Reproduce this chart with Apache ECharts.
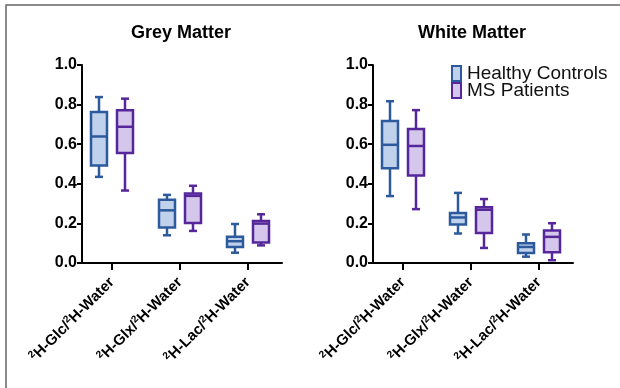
<!DOCTYPE html>
<html><head><meta charset="utf-8">
<script src="https://cdn.jsdelivr.net/npm/echarts@6.0.0/dist/echarts.min.js"></script>
<style>html,body{margin:0;padding:0;background:#fff;overflow:hidden}#c{width:620px;height:388px}</style>
</head><body><div id="c"></div>
<script>
const metabolites = ['Glc', 'Glx', 'Lac'];
const yTicks = [0.0, 0.2, 0.4, 0.6, 0.8, 1.0];
const seriesNames = ['Healthy Controls', 'MS Patients'];
const panelTitles = ['Grey Matter', 'White Matter'];
// each row: [min, Q1, median, Q3, max]
const greyHealthy = [[0.435, 0.492, 0.639, 0.762, 0.838], [0.140, 0.179, 0.266, 0.320, 0.344], [0.052, 0.081, 0.110, 0.132, 0.197]];
const greyMS = [[0.366, 0.556, 0.688, 0.772, 0.830], [0.162, 0.202, 0.339, 0.351, 0.390], [0.089, 0.103, 0.199, 0.212, 0.246]];
const whiteHealthy = [[0.338, 0.479, 0.597, 0.717, 0.817], [0.149, 0.195, 0.230, 0.252, 0.354], [0.032, 0.051, 0.081, 0.100, 0.144]];
const whiteMS = [[0.272, 0.442, 0.591, 0.677, 0.772], [0.076, 0.152, 0.269, 0.281, 0.323], [0.014, 0.054, 0.132, 0.164, 0.201]];

const FONT = '"Liberation Sans", Arial, sans-serif';
const styles = [
  { stroke: '#2C5A9C', fill: '#BFD1EB', offset: -13 },
  { stroke: '#56279A', fill: '#D5C7EC', offset: 13 }
];

function makeRender(st) {
  return function (params, api) {
    const c = api.value(0);
    const p = v => api.coord([c, v]);
    const x = p(api.value(1))[0] + st.offset;
    const yMin = p(api.value(1))[1], yQ1 = p(api.value(2))[1], yMed = p(api.value(3))[1],
      yQ3 = p(api.value(4))[1], yMax = p(api.value(5))[1];
    const hw = 8, cw = 4;
    const ls = { stroke: st.stroke, lineWidth: 2.5, fill: null };
    return {
      type: 'group', children: [
        { type: 'line', shape: { x1: x, y1: yMax, x2: x, y2: yQ3 }, style: ls },
        { type: 'line', shape: { x1: x, y1: yQ1, x2: x, y2: yMin }, style: ls },
        { type: 'line', shape: { x1: x - cw, y1: yMax, x2: x + cw, y2: yMax }, style: ls },
        { type: 'line', shape: { x1: x - cw, y1: yMin, x2: x + cw, y2: yMin }, style: ls },
        { type: 'rect', shape: { x: x - hw, y: yQ3, width: 2 * hw, height: yQ1 - yQ3 }, style: { fill: st.fill, stroke: st.stroke, lineWidth: 2.5 } },
        { type: 'line', shape: { x1: x - hw, y1: yMed, x2: x + hw, y2: yMed }, style: ls }
      ]
    };
  };
}

function mkSeries(name, rows, st, gi) {
  return {
    type: 'custom', name: name, xAxisIndex: gi, yAxisIndex: gi,
    dimensions: ['x', 'min', 'q1', 'med', 'q3', 'max'],
    encode: { x: 0, y: [1, 2, 3, 4, 5] },
    itemStyle: { color: st.fill, borderColor: st.stroke },
    renderItem: makeRender(st),
    data: metabolites.map((m, i) => [i].concat(rows[i]))
  };
}

function xAxis(gi) {
  return {
    type: 'category', gridIndex: gi, data: metabolites, boundaryGap: true,
    axisLine: { show: true, lineStyle: { color: '#000', width: 2 } },
    axisTick: { show: true, alignWithLabel: true, length: 7, lineStyle: { color: '#000', width: 2 } },
    axisLabel: {
      rotate: 45, interval: 0, margin: 17,
      formatter: v => '{s|2}{b|H-' + v + '/}{s|2}{b|H-Water}',
      rich: {
        b: { fontSize: 15, fontWeight: 'bold', fontFamily: FONT, color: '#000', lineHeight: 18 },
        s: { fontSize: 10, fontWeight: 'bold', fontFamily: FONT, color: '#000', lineHeight: 10, verticalAlign: 'top' }
      }
    }
  };
}
function yAxis(gi) {
  return {
    type: 'value', gridIndex: gi, min: yTicks[0], max: yTicks[yTicks.length - 1], interval: 0.2, offset: -4,
    splitLine: { show: false },
    axisLine: { show: true, lineStyle: { color: '#000', width: 2 } },
    axisTick: { show: true, length: 5, lineStyle: { color: '#000', width: 2 } },
    axisLabel: { formatter: v => v.toFixed(1), fontSize: 16, fontWeight: 'bold', fontFamily: FONT, color: '#000', margin: 5 }
  };
}

const chart = echarts.init(document.getElementById('c'));
chart.setOption({
  animation: false,
  backgroundColor: '#fff',
  grid: [
    { left: 78, top: 65, width: 204, height: 198 },
    { left: 369, top: 65, width: 204, height: 198 }
  ],
  xAxis: [xAxis(0), xAxis(1)],
  yAxis: [yAxis(0), yAxis(1)],
  legend: {
    orient: 'vertical', left: 446, top: 59, itemWidth: 9, itemHeight: 15, itemGap: -2,
    icon: 'rect', selectedMode: false,
    textStyle: { fontSize: 19, lineHeight: 17, fontFamily: FONT, color: '#111', padding: [0, 0, 0, 1] },
    data: seriesNames.map((n, i) => ({ name: n, itemStyle: { color: styles[i].fill, borderColor: styles[i].stroke, borderWidth: 2 } }))
  },
  graphic: [
    { type: 'polyline', shape: { points: [[6, 420], [6, 5], [660, 5]] }, style: { fill: null, stroke: '#666', lineWidth: 1.5 }, silent: true },
    { type: 'text', x: 181, y: 33, style: { text: panelTitles[0], align: 'center', verticalAlign: 'middle', font: 'bold 18px ' + FONT, fill: '#000' } },
    { type: 'text', x: 472, y: 33, style: { text: panelTitles[1], align: 'center', verticalAlign: 'middle', font: 'bold 18px ' + FONT, fill: '#000' } }
  ],
  series: [
    mkSeries(seriesNames[0], greyHealthy, styles[0], 0),
    mkSeries(seriesNames[1], greyMS, styles[1], 0),
    mkSeries(seriesNames[0], whiteHealthy, styles[0], 1),
    mkSeries(seriesNames[1], whiteMS, styles[1], 1)
  ]
});
</script>
</body></html>
